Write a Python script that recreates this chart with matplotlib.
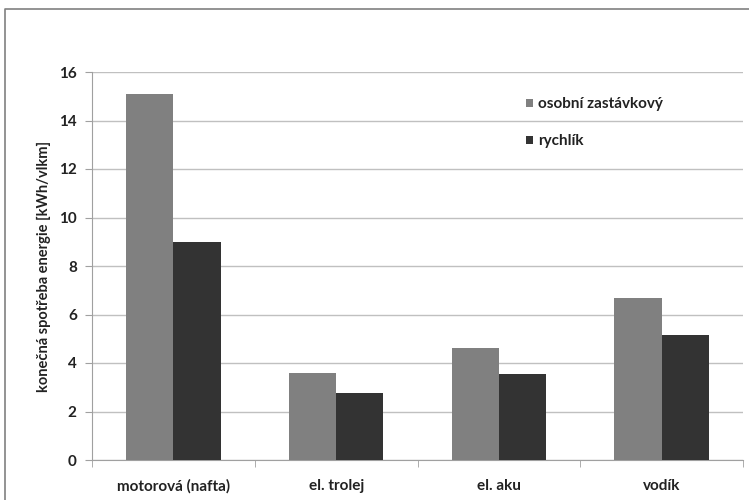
import numpy as np
import matplotlib.pyplot as plt
from matplotlib.lines import Line2D

plt.rcParams['font.family'] = ['Lato', 'DejaVu Sans']
plt.rcParams['font.weight'] = 'bold'

categories = ['motorová (nafta)', 'el. trolej', 'el. aku', 'vodík']
osobni = [15.1, 3.6, 4.6, 6.7]
rychlik = [9.0, 2.75, 3.55, 5.15]
series_names = ['osobní zastávkový', 'rychlík']
yticks = [0, 2, 4, 6, 8, 10, 12, 14, 16]

fig = plt.figure(figsize=(7.49, 5.0), dpi=100)
# outer chart frame, only top and left edges are visible in the crop
fig.lines.append(Line2D([0.007, 0.007, 1.0], [0.0, 0.982, 0.982], transform=fig.transFigure,
                        color='#808080', linewidth=1.2))
ax = fig.add_axes([0.123, 0.08, 0.869, 0.776])

x = np.arange(len(categories))
w = 0.29
ax.bar(x - w / 2, osobni, w, color='#808080', label=series_names[0], zorder=3)
ax.bar(x + w / 2, rychlik, w, color='#333333', label=series_names[1], zorder=3)

ax.set_xlim(-0.5, len(categories) - 0.5)
ax.set_ylim(0, 16)
ax.set_yticks(yticks)
ax.yaxis.grid(True, color='#c0c0c0', linewidth=1, zorder=0)

ax.set_xticks(x)
ax.set_xticklabels(categories, fontsize=11, fontweight='bold')
ax.set_xticks(np.arange(len(categories) + 1) - 0.5, minor=True)
ax.tick_params(axis='x', which='major', length=0, pad=14, colors='#222222')
ax.tick_params(axis='x', which='minor', length=5, color='#a0a0a0')
ax.tick_params(axis='y', length=5, color='#a0a0a0', labelsize=11, pad=6, labelcolor='#222222')
for lbl in ax.get_yticklabels():
    lbl.set_fontweight('bold')

for s in ['top', 'right']:
    ax.spines[s].set_visible(False)
for s in ['left', 'bottom']:
    ax.spines[s].set_color('#a0a0a0')

ax.set_ylabel('konečná spotřeba energie [kWh/vlkm]', fontsize=10.5, fontweight='bold',
              labelpad=6, color='#222222')

leg = ax.legend(loc='upper left', bbox_to_anchor=(0.645, 0.97), frameon=False, fontsize=11,
                handlelength=0.5, handleheight=0.5, handletextpad=0.3, labelspacing=1.5)
for t in leg.get_texts():
    t.set_color('#222222')

fig.savefig('out.png', dpi=100)
